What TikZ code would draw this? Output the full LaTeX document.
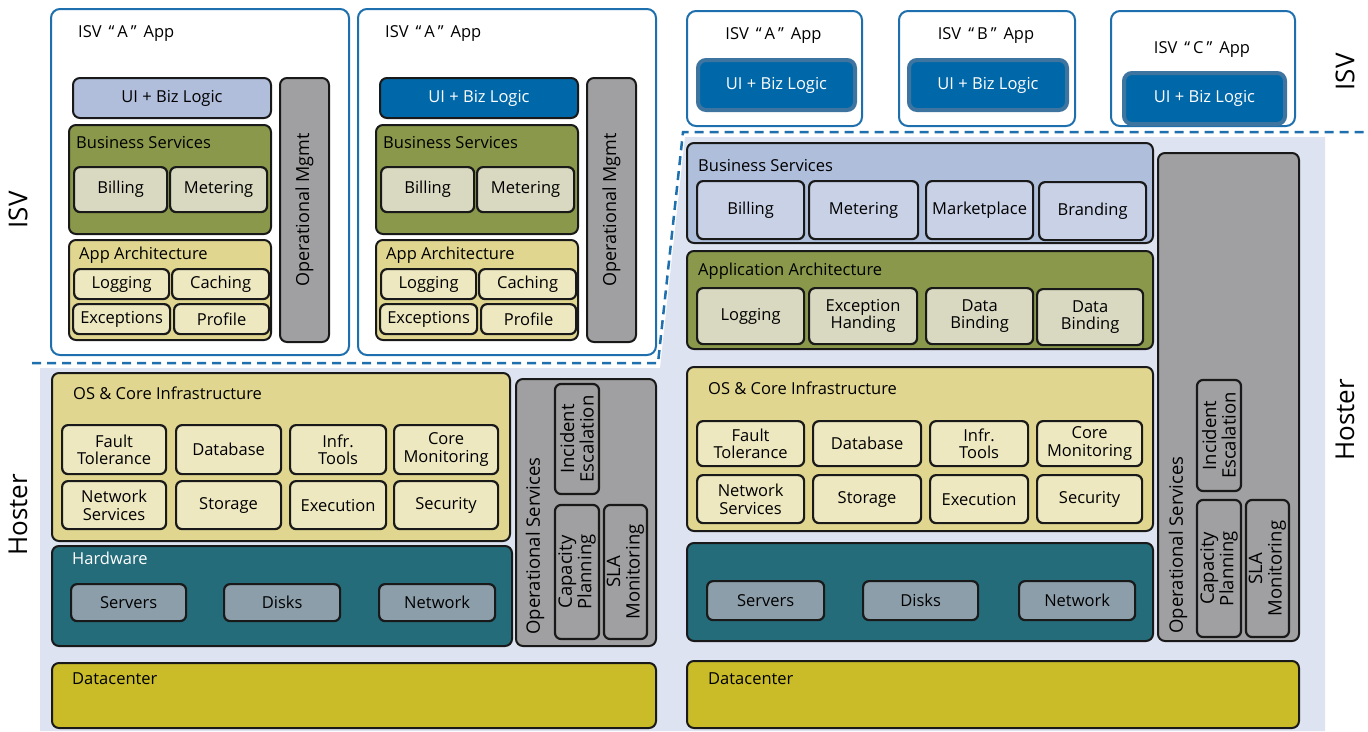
\documentclass[tikz,border=0pt]{standalone}
\usepackage{fontspec}
\setmainfont{Open Sans}
\definecolor{isvblue}{RGB}{30,111,174}
\definecolor{lav}{RGB}{221,227,240}
\definecolor{uilight}{RGB}{176,190,220}
\definecolor{uidark}{RGB}{0,104,168}
\definecolor{uiedge}{RGB}{62,116,160}
\definecolor{olive}{RGB}{137,152,74}
\definecolor{olitem}{RGB}{217,216,192}
\definecolor{khaki}{RGB}{224,214,144}
\definecolor{khitem}{RGB}{237,232,192}
\definecolor{teal}{RGB}{36,108,122}
\definecolor{hwitem}{RGB}{139,158,170}
\definecolor{opgray}{RGB}{160,160,162}
\definecolor{bslight}{RGB}{175,190,219}
\definecolor{bsitem}{RGB}{201,209,230}
\definecolor{mustard}{RGB}{201,188,40}

\begin{document}
\begin{tikzpicture}[x=1pt, y=-1pt,
  every node/.style={font=\fontsize{16.5}{17.5}\selectfont, inner sep=0pt, align=center},
  nw/.style={anchor=north west},
  box/.style={draw=black!90, line width=2pt, rounded corners=7pt},
  item/.style={box, line width=2.2pt, rounded corners=6pt},
  vtext/.style={rotate=90, font=\fontsize{18.5}{19.5}\selectfont},
  panel/.style={draw=isvblue, line width=2pt, fill=white, rounded corners=9pt, nw},
  uibig/.style={draw=uiedge, line width=4pt, fill=uidark, text=white, rounded corners=8pt},
  side/.style={font=\fontsize{26}{28}\selectfont, rotate=90}]
\useasboundingbox (0,0) rectangle (1368,731);

% hoster background and the ISV / hoster border
\fill[lav] (40,368) -- (660,368) -- (685,137) -- (1325,137) -- (1325,731) -- (40,731) -- cycle;
\draw[isvblue, line width=2.5pt, dash pattern=on 9pt off 6pt] (32,363) -- (658,363) -- (683,132) -- (1368,132);

% side labels
\node[side] (isvl) at (18,210) {ISV};
\node[side] (hosterl) at (18,515) {Hoster};
\node[side] (isvr) at (1345,72) {ISV};
\node[side] (hosterr) at (1345,420) {Hoster};

% ISV apps, left: each with its own stack
\foreach \p/\s/\uif/\uit in {a/0/uilight/black, b/307/uidark/white}{
\begin{scope}[xshift=\s pt]
  \node[panel, minimum width=298pt, minimum height=346pt] (app\p) at (50,8) {};
  \node[anchor=west] (apptitle\p) at (78,34) {ISV\hspace{7pt}“\hspace{3pt}A\hspace{3pt}”\hspace{7pt}App};
  \node[box, nw, fill=\uif, text=\uit, minimum width=198pt, minimum height=40pt] (ui\p) at (72,77) {UI + Biz Logic};
  \node[box, nw, fill=olive, minimum width=202pt, minimum height=109pt] (bs\p) at (68,124) {};
  \node[anchor=west] (bstitle\p) at (76,143) {Business Services};
  \node[item, nw, fill=olitem, minimum width=93pt, minimum height=45pt] (bill\p) at (73,166) {Billing};
  \node[item, nw, fill=olitem, minimum width=97pt, minimum height=45pt] (meter\p) at (169,166) {Metering};
  \node[box, nw, fill=khaki, minimum width=202pt, minimum height=100pt] (aa\p) at (68,239) {};
  \node[anchor=west] (aatitle\p) at (79,255) {App Architecture};
  \node[item, nw, fill=khitem, minimum width=95pt, minimum height=30pt] (log\p) at (73,268) {Logging};
  \node[item, nw, fill=khitem, minimum width=97pt, minimum height=30pt] (cache\p) at (171,268) {Caching};
  \node[item, nw, fill=khitem, minimum width=97pt, minimum height=30pt] (exc\p) at (72,303) {Exceptions};
  \node[item, nw, fill=khitem, minimum width=95pt, minimum height=30pt] (prof\p) at (173,303) {Profile};
  \node[box, fill=opgray, rotate=90, font=\fontsize{18}{19}\selectfont, minimum width=264pt, minimum height=49pt] (opm\p) at (304.5,210) {Operational Mgmt};
\end{scope}}

% ISV apps, right: only the UI
\foreach \q/\x/\w/\ty/\ux/\uy/\uw/\uh in {A/686/175/36/696/58/157/50, B/898/176/36/907/58/158/50, C/1110/184/50/1122/71/161/51}{
  \node[panel, minimum width=\w pt, minimum height=115pt] (top\q) at (\x,10) {};
  \node (toptitle\q) at (\x+\w/2,\ty) {ISV\hspace{7pt}“\hspace{3pt}\q\hspace{3pt}”\hspace{7pt}App};
  \node[uibig, nw, minimum width=\uw pt, minimum height=\uh pt] (topui\q) at (\ux,\uy) {UI + Biz Logic};
}

% hoster, left
\node[box, nw, fill=khaki, minimum width=458pt, minimum height=168pt] (osl) at (51,372) {};
\node[anchor=west] (osltitle) at (73,393) {OS \& Core Infrastructure};
\node[item, nw, fill=khitem, minimum width=104pt, minimum height=49pt] (ftl) at (61,424) {Fault\\Tolerance};
\node[item, nw, fill=khitem, minimum width=105pt, minimum height=49pt] (dbl) at (175,424) {Database};
\node[item, nw, fill=khitem, minimum width=96pt, minimum height=49pt] (itl) at (289,424) {Infr.\\Tools};
\node[item, nw, fill=khitem, minimum width=104pt, minimum height=49pt] (cml) at (393,424) {Core\\Monitoring};
\node[item, nw, fill=khitem, minimum width=104pt, minimum height=48pt] (nsl) at (61,480) {Network\\Services};
\node[item, nw, fill=khitem, minimum width=105pt, minimum height=48pt] (stl) at (175,480) {Storage};
\node[item, nw, fill=khitem, minimum width=96pt, minimum height=48pt] (exl) at (289,480) {Execution};
\node[item, nw, fill=khitem, minimum width=104pt, minimum height=48pt] (sel) at (393,480) {Security};

\node[box, nw, fill=teal, minimum width=460pt, minimum height=100pt] (hwl) at (51,545) {};
\node[anchor=west, text=white] (hwltitle) at (72,558) {Hardware};
\node[item, nw, fill=hwitem, minimum width=115pt, minimum height=37pt] (srvl) at (70,583) {Servers};
\node[item, nw, fill=hwitem, minimum width=116pt, minimum height=37pt] (dskl) at (223,583) {Disks};
\node[item, nw, fill=hwitem, minimum width=116pt, minimum height=37pt] (netl) at (378,583) {Network};

\node[box, nw, fill=opgray, minimum width=140pt, minimum height=267pt] (opsl) at (515,378) {};
\node[vtext] (opsltitle) at (535,546) {Operational Services};
\node[item, vtext, fill=opgray, minimum width=110pt, minimum height=44pt] (iel) at (577,439) {Incident\\Escalation};
\node[item, vtext, fill=opgray, minimum width=134pt, minimum height=44pt] (cpl) at (577,572) {Capacity\\Planning};
\node[item, vtext, fill=opgray, minimum width=134pt, minimum height=43pt] (slal) at (625.5,572) {SLA\\Monitoring};

\node[box, nw, fill=mustard, minimum width=604pt, minimum height=65pt] (dcl) at (51,662) {};
\node[anchor=west] (dcltitle) at (72,679) {Datacenter};

% hoster, right
\node[box, nw, fill=bslight, minimum width=466pt, minimum height=100pt] (bsr) at (686,142) {};
\node[anchor=west] (bsrtitle) at (698,166) {Business Services};
\node[item, nw, fill=bsitem, minimum width=107pt, minimum height=58pt] (billr) at (696,180) {Billing};
\node[item, nw, fill=bsitem, minimum width=109pt, minimum height=58pt] (meterr) at (808,180) {Metering};
\node[item, nw, fill=bsitem, minimum width=107pt, minimum height=58pt] (mktr) at (925,180) {Marketplace};
\node[item, nw, fill=bsitem, minimum width=107pt, minimum height=58pt] (brandr) at (1038,181) {Branding};

\node[box, nw, fill=olive, minimum width=466pt, minimum height=98pt] (aar) at (686,250) {};
\node[anchor=west] (aartitle) at (698,271) {Application Architecture};
\node[item, nw, fill=olitem, minimum width=107pt, minimum height=56pt] (logr) at (696,287) {Logging};
\node[item, nw, fill=olitem, minimum width=108pt, minimum height=56pt] (excr) at (808,287) {Exception\\Handing};
\node[item, nw, fill=olitem, minimum width=107pt, minimum height=56pt] (dbar) at (925,287) {Data\\Binding};
\node[item, nw, fill=olitem, minimum width=106pt, minimum height=56pt] (dbbr) at (1036,288) {Data\\Binding};

\node[box, nw, fill=khaki, minimum width=466pt, minimum height=164pt] (osr) at (686,366) {};
\node[anchor=west] (osrtitle) at (708,388) {OS \& Core Infrastructure};
\node[item, nw, fill=khitem, minimum width=107pt, minimum height=45pt] (ftr) at (696,420) {Fault\\Tolerance};
\node[item, nw, fill=khitem, minimum width=108pt, minimum height=45pt] (dbr) at (812,420) {Database};
\node[item, nw, fill=khitem, minimum width=98pt, minimum height=45pt] (itr) at (929,420) {Infr.\\Tools};
\node[item, nw, fill=khitem, minimum width=105pt, minimum height=45pt] (cmr) at (1036,420) {Core\\Monitoring};
\node[item, nw, fill=khitem, minimum width=107pt, minimum height=48pt] (nsr) at (696,474) {Network\\Services};
\node[item, nw, fill=khitem, minimum width=108pt, minimum height=48pt] (str) at (812,474) {Storage};
\node[item, nw, fill=khitem, minimum width=98pt, minimum height=48pt] (exr) at (929,474) {Execution};
\node[item, nw, fill=khitem, minimum width=105pt, minimum height=48pt] (ser) at (1036,474) {Security};

\node[box, nw, fill=teal, minimum width=466pt, minimum height=98pt] (hwr) at (686,542) {};
\node[item, nw, fill=hwitem, minimum width=117pt, minimum height=39pt] (srvr) at (706,580) {Servers};
\node[item, nw, fill=hwitem, minimum width=115pt, minimum height=39pt] (dskr) at (862,580) {Disks};
\node[item, nw, fill=hwitem, minimum width=116pt, minimum height=39pt] (netr) at (1018,580) {Network};

\node[box, nw, fill=opgray, minimum width=141pt, minimum height=488pt] (opsr) at (1157,152) {};
\node[vtext] (opsrtitle) at (1178,545) {Operational Services};
\node[item, vtext, fill=opgray, minimum width=111pt, minimum height=44pt] (ier) at (1219,435.5) {Incident\\Escalation};
\node[item, vtext, fill=opgray, minimum width=137pt, minimum height=44pt] (cpr) at (1219,568.5) {Capacity\\Planning};
\node[item, vtext, fill=opgray, minimum width=137pt, minimum height=43pt] (slar) at (1267.5,568.5) {SLA\\Monitoring};

\node[box, nw, fill=mustard, minimum width=612pt, minimum height=67pt] (dcr) at (686,660) {};
\node[anchor=west] (dcrtitle) at (708,679) {Datacenter};
\end{tikzpicture}
\end{document}
